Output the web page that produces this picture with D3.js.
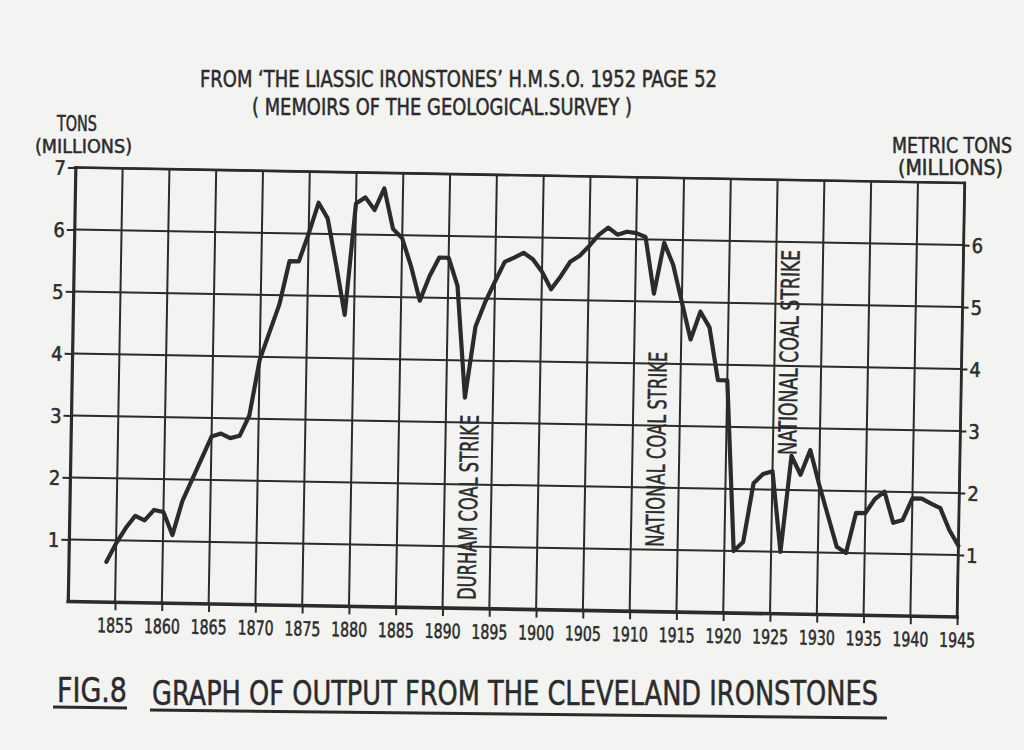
<!DOCTYPE html>
<html>
<head>
<meta charset="utf-8">
<script src="https://cdn.jsdelivr.net/npm/d3@7"></script>
<style>
  body { margin: 0; background: #f3f3f1; }
  text { font-family: "DejaVu Sans Condensed", "Liberation Sans Narrow", "DejaVu Sans", sans-serif; fill: #2b2b2b; stroke: #2b2b2b; stroke-width: 0.5px; }
</style>
</head>
<body>
<svg id="graphic" width="1024" height="750"></svg>
<script>
// output of Cleveland ironstone, millions of tons
const chartYears = [
  1854, 1855, 1856, 1857, 1858, 1859, 1860, 1861, 1862, 1863, 1864, 1865, 1866, 1867, 1868, 1869,
  1870, 1871, 1872, 1873, 1874, 1875, 1876, 1877, 1878, 1879, 1880, 1881, 1882, 1883, 1884, 1885,
  1886, 1887, 1888, 1889, 1890, 1891, 1892, 1893, 1894, 1895, 1896, 1897, 1898, 1899, 1900, 1901,
  1902, 1903, 1904, 1905, 1906, 1907, 1908, 1909, 1910, 1911, 1912, 1913, 1914, 1915, 1916, 1917,
  1918, 1919, 1920, 1921, 1922, 1923, 1924, 1925, 1926, 1927, 1928, 1929, 1930, 1931, 1932, 1933,
  1934, 1935, 1936, 1937, 1938, 1939, 1940, 1941, 1942, 1943, 1944, 1945,
];
const outputTons = [
  0.65, 0.95, 1.2, 1.4, 1.33, 1.5, 1.47, 1.1, 1.65, 2.0, 2.35, 2.7, 2.75, 2.68, 2.72, 3.05,
  3.95, 4.4, 4.85, 5.55, 5.55, 6.0, 6.5, 6.25, 5.5, 4.7, 6.5, 6.6, 6.4, 6.75, 6.1, 5.95,
  5.5, 4.95, 5.35, 5.65, 5.65, 5.2, 3.4, 4.55, 4.95, 5.28, 5.6, 5.67, 5.75, 5.65, 5.45, 5.17,
  5.38, 5.62, 5.72, 5.88, 6.06, 6.18, 6.07, 6.12, 6.1, 6.04, 5.13, 5.95, 5.6, 5.0, 4.4, 4.85,
  4.6, 3.75, 3.75, 1.0, 1.15, 2.1, 2.25, 2.3, 1.0, 2.55, 2.25, 2.65, 2.1, 1.6, 1.1, 1.0,
  1.65, 1.65, 1.88, 2.0, 1.5, 1.55, 1.9, 1.9, 1.82, 1.75, 1.4, 1.15,
];

const yearTicks = [1855, 1860, 1865, 1870, 1875, 1880, 1885, 1890, 1895, 1900, 1905, 1910, 1915, 1920, 1925, 1930, 1935, 1940, 1945];
const tonsTicks = [1, 2, 3, 4, 5, 6, 7];
const metricTicks = [1, 2, 3, 4, 5, 6];

const strikeYears = [1892, 1912, 1926];
const strikeLabels = ['DURHAM COAL STRIKE', 'NATIONAL COAL STRIKE', 'NATIONAL COAL STRIKE'];

// layout
const plot = {left: 72, right: 961, top: 175.25, bottom: 609.25};
const tilt = {angle: 1.0, cx: 516.5, cy: 392.25};
const strikeMid = [1.63, 2.62, 4.22];
const strikeLength = [185, 195, 205];
const ink = '#2b2b2b';

const svg = d3.select('#graphic');

svg.append('rect')
    .attr('width', 1024)
    .attr('height', 750)
    .attr('fill', '#f3f3f1');

const x = d3.scaleLinear().domain([1850, 1945]).range([plot.left, plot.right]);
const y = d3.scaleLinear().domain([0, 7]).range([plot.bottom, plot.top]);

// the scanned figure sits slightly rotated
const chart = svg.append('g')
    .attr('transform', `rotate(${tilt.angle}, ${tilt.cx}, ${tilt.cy})`);

// grid
chart.append('g')
    .selectAll('line')
    .data(yearTicks)
    .join('line')
    .attr('x1', (d) => x(d))
    .attr('x2', (d) => x(d))
    .attr('y1', y(0))
    .attr('y2', y(7))
    .attr('stroke', ink)
    .attr('stroke-width', 2);

chart.append('g')
    .selectAll('line')
    .data(tonsTicks)
    .join('line')
    .attr('x1', x(1850))
    .attr('x2', x(1945))
    .attr('y1', (d) => y(d))
    .attr('y2', (d) => y(d))
    .attr('stroke', ink)
    .attr('stroke-width', 2);

// axes
const intFmt = d3.format('d');

const xAxis = d3.axisBottom(x)
    .tickValues(yearTicks)
    .tickFormat(intFmt)
    .tickSize(8)
    .tickSizeOuter(0)
    .tickPadding(8);

const yAxis = d3.axisLeft(y)
    .tickValues(tonsTicks)
    .tickFormat(intFmt)
    .tickSize(8)
    .tickSizeOuter(0)
    .tickPadding(2);

const yAxisRight = d3.axisRight(y)
    .tickValues(metricTicks)
    .tickFormat(intFmt)
    .tickSize(6)
    .tickSizeOuter(0)
    .tickPadding(2);

const gx = chart.append('g')
    .attr('transform', `translate(0, ${plot.bottom})`)
    .call(xAxis);

const gy = chart.append('g')
    .attr('transform', `translate(${plot.left}, 0)`)
    .call(yAxis);

const gyr = chart.append('g')
    .attr('transform', `translate(${plot.right}, 0)`)
    .call(yAxisRight);

[gx, gy, gyr].forEach((g) => {
  g.select('.domain').remove();
  g.selectAll('.tick line').attr('stroke', ink).attr('stroke-width', 2);
  g.selectAll('.tick text')
      .attr('fill', ink)
      .style('font-family', '"DejaVu Sans Condensed", "Liberation Sans Narrow", "DejaVu Sans", sans-serif')
      .style('font-size', '20px');
});
gx.selectAll('.tick text')
    .attr('textLength', 36)
    .attr('lengthAdjust', 'spacingAndGlyphs');
gy.selectAll('.tick text').attr('dy', '0.36em');
gyr.selectAll('.tick text').attr('dy', '0.36em');

// frame
const frame = [
  {x1: 1850, y1: 0, x2: 1850, y2: 7, w: 3.2},
  {x1: 1850, y1: 0, x2: 1945, y2: 0, w: 3.6},
  {x1: 1945, y1: 0, x2: 1945, y2: 7, w: 2.8},
  {x1: 1850, y1: 7, x2: 1945, y2: 7, w: 2.6},
];
chart.append('g')
    .selectAll('line')
    .data(frame)
    .join('line')
    .attr('x1', (d) => x(d.x1))
    .attr('x2', (d) => x(d.x2))
    .attr('y1', (d) => y(d.y1))
    .attr('y2', (d) => y(d.y2))
    .attr('stroke', ink)
    .attr('stroke-width', (d) => d.w)
    .attr('stroke-linecap', 'square');

// output line
const line = d3.line()
    .x((d, i) => x(chartYears[i]))
    .y((d) => y(d));

chart.append('path')
    .datum(outputTons)
    .attr('d', line)
    .attr('fill', 'none')
    .attr('stroke', ink)
    .attr('stroke-width', 4.2)
    .attr('stroke-linejoin', 'round')
    .attr('stroke-linecap', 'round');

// strike notes
chart.append('g')
    .selectAll('text')
    .data(strikeYears)
    .join('text')
    .attr('transform', (d, i) => `translate(${x(d) + 14}, ${y(strikeMid[i])}) rotate(-90)`)
    .attr('text-anchor', 'middle')
    .attr('font-size', 25)
    .attr('textLength', (d, i) => strikeLength[i])
    .attr('lengthAdjust', 'spacingAndGlyphs')
    .text((d, i) => strikeLabels[i]);

// headings
const headings = [
  {text: 'FROM \u2018THE LIASSIC IRONSTONES\u2019 H.M.S.O. 1952 PAGE 52', x: 458.5, y: 87, len: 517, size: 23},
  {text: '( MEMOIRS OF THE GEOLOGICAL.SURVEY )', x: 442, y: 115, len: 380, size: 23},
  {text: 'TONS', x: 77, y: 131, len: 40, size: 21},
  {text: '(MILLIONS)', x: 83.5, y: 153, len: 97, size: 20},
  {text: 'METRIC TONS', x: 952, y: 153, len: 120, size: 21},
  {text: '(MILLIONS)', x: 950.5, y: 175, len: 105, size: 21},
  {text: 'FIG.8', x: 92, y: 702, len: 70, size: 34},
  {text: 'GRAPH OF OUTPUT FROM THE CLEVELAND IRONSTONES', x: 515, y: 705, len: 726, size: 34},
];
svg.append('g')
    .selectAll('text')
    .data(headings)
    .join('text')
    .attr('x', (d) => d.x)
    .attr('y', (d) => d.y)
    .attr('text-anchor', 'middle')
    .attr('font-size', (d) => d.size)
    .attr('textLength', (d) => d.len)
    .attr('lengthAdjust', 'spacingAndGlyphs')
    .text((d) => d.text);

// underlines
svg.append('line')
    .attr('x1', 53).attr('y1', 707).attr('x2', 127).attr('y2', 708)
    .attr('stroke', ink).attr('stroke-width', 3);
svg.append('line')
    .attr('x1', 150).attr('y1', 710).attr('x2', 887).attr('y2', 718)
    .attr('stroke', ink).attr('stroke-width', 3);
</script>
</body>
</html>
